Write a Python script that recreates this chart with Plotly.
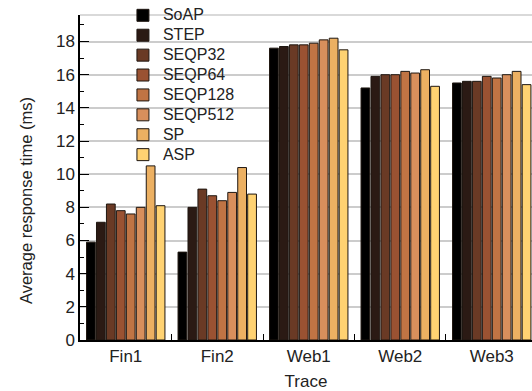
import plotly.graph_objects as go

categories = ["Fin1", "Fin2", "Web1", "Web2", "Web3"]
series_names = ["SoAP", "STEP", "SEQP32", "SEQP64", "SEQP128", "SEQP512", "SP", "ASP"]
soap = [5.9, 5.3, 17.6, 15.2, 15.5]
step = [7.1, 8.0, 17.7, 15.9, 15.6]
seqp32 = [8.2, 9.1, 17.8, 16.0, 15.6]
seqp64 = [7.8, 8.7, 17.8, 16.0, 15.9]
seqp128 = [7.6, 8.4, 17.9, 16.2, 15.8]
seqp512 = [8.0, 8.9, 18.1, 16.1, 16.0]
sp = [10.5, 10.4, 18.2, 16.3, 16.2]
asp = [8.1, 8.8, 17.5, 15.3, 15.4]
series_values = [soap, step, seqp32, seqp64, seqp128, seqp512, sp, asp]
colors = ["#000000", "#2b1a14", "#6a3a25", "#9a5232", "#c07444", "#d88f5c", "#ecb062", "#ffd272"]
y_ticks = [0, 2, 4, 6, 8, 10, 12, 14, 16, 18]
y_title = "Average response time (ms)"
x_title = "Trace"

FONT = "Liberation Sans, Arial, sans-serif"

fig = go.Figure()
for name, vals, col in zip(series_names, series_values, colors):
    fig.add_trace(go.Bar(
        name="<span style='font-size:16px'>" + name + "</span>",
        x=categories, y=vals,
        marker=dict(color=col, line=dict(color="#1e1610", width=1)),
    ))

fig.update_layout(
    width=532, height=391,
    margin=dict(l=80, r=0, t=7, b=51),
    paper_bgcolor="white", plot_bgcolor="white",
    font=dict(family=FONT, size=17, color="#222222"),
    barmode="group", bargap=0.13, bargroupgap=0.12,
    showlegend=True,
    legend=dict(
        x=0.095, y=1.045, xanchor="left", yanchor="top",
        bgcolor="rgba(0,0,0,0)", font=dict(size=13, color="#222222"),
        itemwidth=30, tracegroupgap=0,
    ),
    xaxis=dict(
        range=[-0.5, 4.44], showgrid=False,
        showline=True, linecolor="black", linewidth=1.5,
        ticks="inside", tickson="boundaries", ticklen=6, tickcolor="black",
        title=dict(text=x_title, font=dict(size=17), standoff=12),
        tickfont=dict(size=17),
    ),
    yaxis=dict(
        range=[0, 19.6], tickvals=y_ticks,
        showgrid=True, gridcolor="#cccccc", gridwidth=1.5,
        showline=True, linecolor="black", linewidth=1.5,
        ticks="inside", ticklen=9, tickcolor="black",
        minor=dict(ticks="inside", ticklen=4, dtick=1, tickcolor="black", showgrid=False),
        tickfont=dict(size=17), zeroline=False,
    ),
    annotations=[
        dict(text=y_title, textangle=-90, xref="paper", yref="paper",
             x=-0.12, y=0.43, xanchor="center", yanchor="middle", showarrow=False,
             font=dict(size=16.5, color="#222222")),
    ],
    shapes=[
        dict(type="line", xref="paper", yref="paper", x0=0, x1=1, y0=1, y1=1,
             line=dict(color="#cccccc", width=1.5)),
        dict(type="rect", xref="paper", yref="paper", x0=0.095, x1=0.354, y0=0.55, y1=0.995,
             fillcolor="white", line=dict(width=0), layer="between"),
    ],
)

fig.write_html("out.html", config={"displayModeBar": False},
               post_script="document.body.style.margin='0';")
